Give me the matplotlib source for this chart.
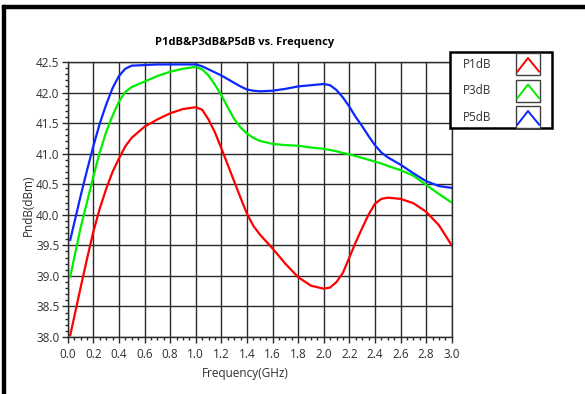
import matplotlib
matplotlib.use("Agg")
import matplotlib.pyplot as plt
from matplotlib.patches import Rectangle
from matplotlib.lines import Line2D
from matplotlib.ticker import MultipleLocator

# frequency points (GHz) and compression points (dBm)
freq = [0.02, 0.1, 0.15, 0.2, 0.25, 0.3, 0.35, 0.4, 0.45, 0.5, 0.6, 0.7, 0.8, 0.9,
        1.0, 1.05, 1.1, 1.15, 1.2, 1.25, 1.3, 1.35, 1.4, 1.45, 1.5, 1.6, 1.7, 1.8,
        1.9, 2.0, 2.05, 2.1, 2.15, 2.2, 2.25, 2.3, 2.35, 2.4, 2.45, 2.5, 2.6, 2.7,
        2.8, 2.9, 3.0]
p1db = [38.03, 38.8, 39.27, 39.72, 40.1, 40.42, 40.7, 40.92, 41.12, 41.26, 41.44, 41.56, 41.66, 41.73,
        41.76, 41.72, 41.56, 41.35, 41.09, 40.82, 40.55, 40.28, 40.02, 39.82, 39.68, 39.45, 39.2, 38.98,
        38.84, 38.79, 38.81, 38.9, 39.05, 39.3, 39.55, 39.78, 40.0, 40.18, 40.26, 40.28, 40.26, 40.19,
        40.05, 39.83, 39.5]
p3db = [38.99, 39.78, 40.2, 40.62, 41.02, 41.35, 41.62, 41.85, 42.01, 42.09, 42.18, 42.27, 42.34, 42.39,
        42.42, 42.38, 42.28, 42.13, 41.96, 41.76, 41.57, 41.43, 41.33, 41.26, 41.21, 41.16, 41.14, 41.13,
        41.1, 41.08, 41.06, 41.04, 41.01, 40.99, 40.96, 40.93, 40.9, 40.87, 40.84, 40.8, 40.73, 40.64,
        40.49, 40.34, 40.2]
p5db = [39.59, 40.3, 40.72, 41.12, 41.49, 41.8, 42.07, 42.27, 42.39, 42.44, 42.45, 42.46, 42.46, 42.46,
        42.46, 42.43, 42.38, 42.33, 42.28, 42.22, 42.16, 42.1, 42.05, 42.03, 42.02, 42.03, 42.06, 42.1,
        42.12, 42.14, 42.12, 42.04, 41.92, 41.77, 41.6, 41.45, 41.29, 41.14, 41.02, 40.94, 40.82, 40.68,
        40.55, 40.47, 40.44]
names = ["P1dB", "P3dB", "P5dB"]
colors = ["#ff0000", "#00ee00", "#0a28ff"]

plt.rcParams["font.family"] = ["Open Sans", "DejaVu Sans"]
txt = "#303030"

W, H = 585, 394
fig = plt.figure(figsize=(W / 100, H / 100), dpi=100)

def fx(px):
    return px / W

def fy(py):
    return 1 - py / H

# window frame, top and left
fig.patches.append(Rectangle((fx(2), fy(7.5)), 1, 3 / H, transform=fig.transFigure,
                             color="black", zorder=0))
fig.patches.append(Rectangle((fx(2), 0), 3 / W, fy(4.5), transform=fig.transFigure,
                             color="black", zorder=0))

ax = fig.add_axes([fx(67.7), fy(337), fx(451.7) - fx(67.7), fy(62) - fy(337)])

for vals, name, c in zip([p1db, p3db, p5db], names, colors):
    ax.plot(freq, vals, color=c, lw=1.6, label=name, zorder=3)

ax.set_xlim(0, 3.0)
ax.set_ylim(38.0, 42.5)
ax.xaxis.set_major_locator(MultipleLocator(0.2))
ax.xaxis.set_minor_locator(MultipleLocator(0.05))
ax.yaxis.set_major_locator(MultipleLocator(0.5))
ax.yaxis.set_minor_locator(MultipleLocator(0.1))
ax.xaxis.set_major_formatter(plt.FormatStrFormatter("%.1f"))
ax.yaxis.set_major_formatter(plt.FormatStrFormatter("%.1f"))
ax.grid(True, which="major", color="#2a2a2a", lw=1.0)
ax.set_axisbelow(True)
for s in ax.spines.values():
    s.set_color("#2a2a2a")
    s.set_linewidth(1.0)
ax.tick_params(which="major", length=4, width=1, color="#2a2a2a", labelsize=8.5,
               labelcolor=txt, pad=2)
ax.tick_params(which="minor", length=2.5, width=1, color="#2a2a2a")
ax.tick_params(axis="x", which="major", pad=4)

fig.text(fx(245), fy(43), "P1dB&P3dB&P5dB vs. Frequency", ha="center", va="center",
         fontsize=8, fontweight="bold", color="black")
fig.text(fx(245), fy(374), "Frequency(GHz)", ha="center", va="center",
         fontsize=8.5, color=txt)
fig.text(fx(28), fy(205), "PndB(dBm)", ha="center", va="center", rotation=90,
         fontsize=8.5, color=txt)

# legend box with a chevron icon per series
lx0, ly0, lx1, ly1 = 450, 52, 552, 128
fig.patches.append(Rectangle((fx(lx0), fy(ly1)), fx(lx1) - fx(lx0), fy(ly0) - fy(ly1),
                             transform=fig.transFigure, facecolor="white",
                             edgecolor="black", lw=1.8, zorder=5))
handles, labels = ax.get_legend_handles_labels()
for i, (h, lab) in enumerate(zip(handles, labels)):
    top = 53.5 + i * 26.5
    fig.text(fx(463), fy(top + 11), lab, ha="left", va="center", fontsize=8.5,
             color=txt, zorder=6)
    fig.patches.append(Rectangle((fx(516), fy(top + 21.5)), 24 / W, 21.5 / H,
                                 transform=fig.transFigure, facecolor="white",
                                 edgecolor="#404040", lw=1.0, zorder=6))
    fig.lines.append(Line2D([fx(517.5), fx(528), fx(539)],
                            [fy(top + 18), fy(top + 4.5), fy(top + 18)],
                            transform=fig.transFigure, color=h.get_color(),
                            lw=1.4, zorder=7))

fig.savefig("out.png", dpi=100)
